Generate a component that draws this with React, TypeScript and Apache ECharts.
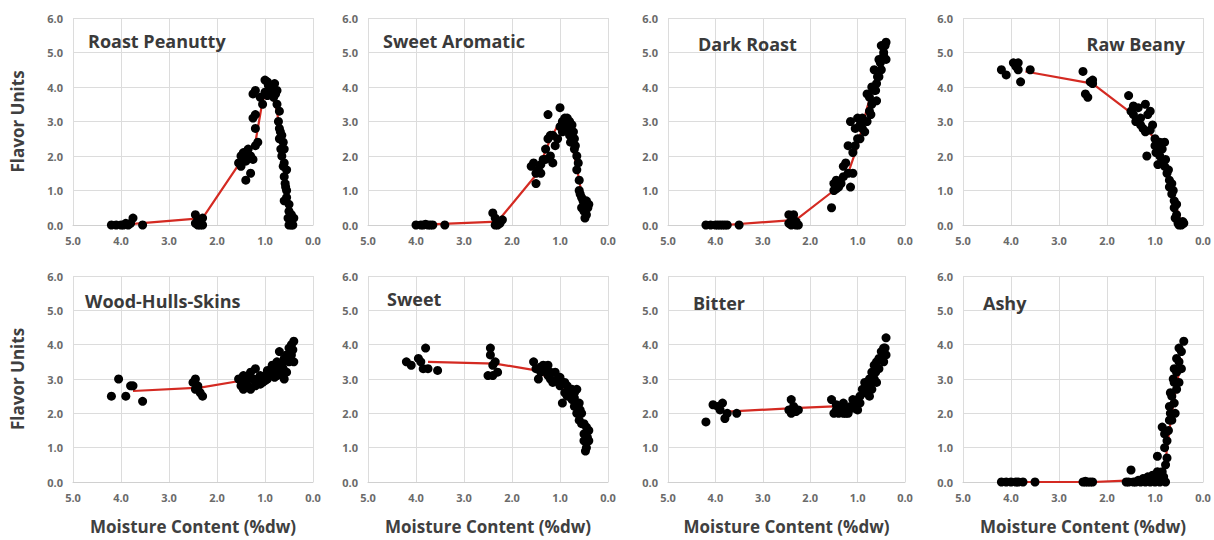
import React, { useEffect, useRef } from "react";
import * as echarts from "echarts";

// ---------- data (moisture %dw, flavor units) ----------
const panelTitles = [
  "Roast Peanutty",
  "Sweet Aromatic",
  "Dark Roast",
  "Raw Beany",
  "Wood-Hulls-Skins",
  "Sweet",
  "Bitter",
  "Ashy",
];

const roastPeanuttyPts = [
  [4.2, 0], [4.1, 0], [4.0, 0], [3.95, 0], [3.9, 0.05], [3.85, 0], [3.8, 0.05], [3.75, 0.2], [3.55, 0],
  [2.45, 0.3], [2.4, 0.0], [2.35, 0.1], [2.3, 0.2], [2.4, 0.15], [2.35, 0.0], [2.45, 0.05], [2.3, 0.0],
  [1.55, 1.8], [1.5, 2.0], [1.45, 1.9], [1.5, 1.7], [1.45, 2.1], [1.4, 1.3], [1.35, 2.2], [1.3, 1.5],
  [1.25, 1.9], [1.3, 2.0], [1.2, 2.3], [1.15, 2.4], [1.25, 3.1], [1.2, 2.8], [1.2, 3.2], [1.25, 3.8],
  [1.2, 3.9], [1.1, 3.7], [1.05, 3.5], [1.0, 4.2], [0.95, 4.15], [0.9, 4.0], [0.85, 3.95], [0.8, 4.1],
  [0.75, 3.9], [0.75, 3.5], [0.7, 3.3], [0.72, 3.0], [0.7, 2.8], [0.65, 2.6], [0.7, 2.5], [0.62, 2.4],
  [0.6, 2.2], [0.65, 2.0], [0.6, 1.8], [0.55, 1.6], [0.6, 1.4], [0.55, 1.0], [0.55, 0.8], [0.5, 0.6],
  [0.5, 0.4], [0.45, 0.3], [0.4, 0.2], [0.45, 0.1], [0.5, 0.0], [0.45, 0.0], [0.6, 0.7], [0.58, 1.2],
  [0.68, 2.7], [0.78, 3.8], [0.88, 3.9], [0.93, 4.05], [0.62, 1.7], [0.52, 0.2], [0.42, 0.0],
  [1.4, 1.85], [1.35, 2.05], [1.0, 3.85], [0.95, 3.75], [0.82, 3.7], [0.67, 2.2], [0.57, 1.1], [0.48, 0.15],
];
const roastPeanuttyLine = [
  [3.75, 0.03], [2.3, 0.2], [1.5, 1.85], [1.2, 2.4], [1.05, 3.6], [0.9, 4.0], [0.75, 3.3], [0.65, 2.3], [0.58, 1.3], [0.5, 0.4],
];

const sweetAromaticPts = [
  [4.0, 0], [3.9, 0], [3.85, 0], [3.8, 0.02], [3.75, 0], [3.7, 0], [3.65, 0], [3.4, 0],
  [2.4, 0.35], [2.35, 0.0], [2.3, 0.1], [2.25, 0.05], [2.3, 0.0], [2.2, 0.15], [2.35, 0.2],
  [1.6, 1.7], [1.55, 1.8], [1.5, 1.2], [1.45, 1.6], [1.4, 1.5], [1.35, 1.9], [1.3, 2.2], [1.25, 2.5],
  [1.2, 2.6], [1.2, 2.0], [1.15, 1.8], [1.1, 2.3], [1.25, 3.2], [1.0, 3.4], [0.95, 3.0], [0.9, 2.9],
  [0.85, 3.1], [0.8, 3.0], [0.75, 2.9], [0.8, 2.6], [0.7, 2.5], [0.7, 2.2], [0.65, 2.0], [0.65, 1.6],
  [0.6, 1.3], [0.6, 1.0], [0.55, 0.8], [0.5, 0.6], [0.5, 0.4], [0.45, 0.3], [0.45, 0.7], [0.4, 0.6],
  [1.05, 2.5], [0.95, 2.7], [0.85, 2.8], [0.72, 2.7], [0.62, 1.8], [0.55, 0.5], [0.48, 0.2], [0.42, 0.5],
  [1.5, 1.5], [1.4, 1.75], [1.3, 1.9], [1.15, 2.6], [1.0, 2.85], [0.9, 3.1], [0.78, 2.4], [0.68, 2.3],
  [0.58, 0.9], [0.52, 0.7],
];
const sweetAromaticLine = [
  [3.7, 0.02], [2.3, 0.1], [1.5, 1.45], [1.2, 2.5], [1.0, 3.0], [0.8, 2.7], [0.6, 1.3], [0.5, 0.5],
];

const darkRoastPts = [
  [4.2, 0], [4.1, 0], [4.0, 0], [3.95, 0], [3.9, 0], [3.85, 0], [3.8, 0], [3.75, 0], [3.5, 0],
  [2.45, 0.3], [2.4, 0.0], [2.35, 0.3], [2.3, 0.1], [2.3, 0.0], [2.25, 0.0], [2.4, 0.1], [2.45, 0.05],
  [1.55, 0.5], [1.5, 1.0], [1.45, 1.3], [1.4, 1.1], [1.35, 1.2], [1.3, 1.4], [1.25, 1.8], [1.2, 1.5],
  [1.15, 1.1], [1.1, 1.5], [1.2, 2.3], [1.15, 3.0], [1.1, 2.1], [1.05, 2.8], [1.0, 3.1], [0.95, 2.5],
  [0.9, 2.8], [0.85, 2.7], [0.8, 3.0], [0.75, 3.3], [0.8, 3.8], [0.7, 3.5], [0.7, 4.0], [0.65, 4.5],
  [0.6, 4.1], [0.6, 3.6], [0.55, 4.8], [0.5, 5.2], [0.45, 5.0], [0.4, 5.3], [0.4, 4.8], [0.5, 4.5],
  [0.55, 4.3], [1.0, 2.5], [0.75, 3.7], [0.65, 3.9], [0.45, 4.9], [1.3, 1.7], [1.5, 1.2], [0.95, 2.9],
  [0.58, 4.3], [0.42, 5.2], [1.45, 1.05], [1.05, 2.3], [0.9, 3.1], [0.72, 3.2], [0.62, 3.9], [0.52, 4.7],
];
const darkRoastLine = [
  [3.8, 0.0], [2.3, 0.15], [1.5, 1.0], [1.2, 1.5], [1.0, 2.3], [0.8, 3.4], [0.6, 4.3], [0.45, 5.1],
];

const rawBeanyPts = [
  [4.2, 4.5], [4.1, 4.35], [3.95, 4.7], [3.9, 4.6], [3.85, 4.5], [3.8, 4.15], [3.85, 4.7], [3.6, 4.5],
  [2.5, 4.45], [2.45, 3.8], [2.4, 3.7], [2.35, 4.15], [2.3, 4.1], [2.3, 4.2],
  [1.55, 3.75], [1.5, 3.3], [1.45, 3.2], [1.4, 3.0], [1.35, 3.4], [1.3, 3.1], [1.25, 2.8], [1.2, 2.7],
  [1.2, 3.5], [1.15, 3.2], [1.1, 3.3], [1.05, 2.9], [1.0, 2.5], [1.0, 2.3], [0.95, 2.3], [0.9, 2.4],
  [0.9, 2.0], [0.85, 1.8], [0.85, 2.2], [0.8, 1.7], [0.75, 1.5], [0.7, 1.3], [0.65, 1.2], [0.7, 1.1],
  [0.6, 0.7], [0.6, 0.5], [0.55, 0.3], [0.5, 0.1], [0.45, 0.0], [0.5, 0.0], [0.4, 0.05], [0.55, 0.6],
  [1.17, 2.0], [0.94, 1.75], [0.8, 2.4], [0.65, 0.9], [0.58, 0.2], [0.42, 0.1],
  [1.45, 3.45], [1.3, 2.9], [1.1, 2.75], [0.98, 2.1], [0.78, 1.9], [0.72, 1.6], [0.62, 1.0], [0.52, 0.05],
];
const rawBeanyLine = [
  [3.7, 4.45], [2.3, 4.1], [1.5, 3.25], [1.0, 2.5], [0.8, 1.8], [0.6, 0.7], [0.45, 0.05],
];

const woodHullsPts = [
  [4.2, 2.5], [4.05, 3.0], [3.9, 2.5], [3.8, 2.8], [3.75, 2.8], [3.55, 2.35],
  [2.5, 2.9], [2.45, 2.7], [2.4, 2.8], [2.35, 2.6], [2.3, 2.5], [2.45, 3.0], [2.4, 2.75],
  [1.55, 3.0], [1.5, 2.8], [1.45, 2.7], [1.4, 2.9], [1.35, 3.1], [1.3, 2.7], [1.25, 3.0], [1.2, 3.3],
  [1.2, 2.8], [1.15, 3.0], [1.1, 3.1], [1.05, 2.9], [1.0, 3.1], [0.95, 3.0], [0.9, 3.2], [0.85, 3.1],
  [0.8, 3.3], [0.75, 3.5], [0.75, 3.1], [0.7, 3.8], [0.7, 3.3], [0.65, 3.4], [0.6, 3.6], [0.55, 3.2],
  [0.55, 3.7], [0.5, 3.9], [0.5, 3.5], [0.45, 4.0], [0.4, 4.1], [0.4, 3.5], [0.45, 3.7], [1.3, 3.2],
  [1.45, 3.1], [0.65, 3.2], [0.85, 3.4], [0.95, 3.25], [1.1, 2.85], [0.6, 3.0],
  [1.5, 2.95], [1.35, 2.8], [1.0, 2.95], [0.8, 3.05], [0.62, 3.3], [0.52, 3.6], [0.42, 3.85],
];
const woodHullsLine = [
  [3.75, 2.65], [2.35, 2.75], [1.5, 2.95], [1.0, 3.05], [0.7, 3.3], [0.45, 3.7],
];

const sweetPts = [
  [4.2, 3.5], [4.1, 3.4], [3.95, 3.6], [3.85, 3.3], [3.8, 3.9], [3.75, 3.3], [3.55, 3.25], [3.9, 3.5],
  [2.45, 3.9], [2.45, 3.7], [2.4, 3.1], [2.35, 3.5], [2.3, 3.2], [2.5, 3.1], [2.4, 3.4],
  [1.55, 3.5], [1.5, 3.3], [1.45, 3.0], [1.4, 3.2], [1.35, 3.4], [1.3, 3.3], [1.25, 3.1], [1.2, 3.0],
  [1.15, 2.9], [1.1, 3.2], [1.05, 3.0], [1.0, 2.8], [0.95, 2.3], [0.95, 2.9], [0.9, 2.6], [0.85, 2.5],
  [0.8, 2.7], [0.75, 2.4], [0.7, 2.6], [0.7, 2.2], [0.65, 2.0], [0.6, 1.8], [0.6, 2.3], [0.55, 1.7],
  [0.5, 1.4], [0.5, 1.2], [0.45, 1.0], [0.45, 1.6], [0.4, 1.5], [0.4, 1.2], [0.47, 0.9], [0.55, 2.0],
  [0.65, 2.7], [0.85, 2.8], [1.25, 3.4], [0.75, 2.7],
  [1.4, 3.35], [1.2, 3.2], [1.0, 3.05], [0.9, 2.9], [0.7, 2.45], [0.58, 2.1], [0.5, 1.7], [0.43, 1.3],
];
const sweetLine = [
  [3.75, 3.5], [2.35, 3.45], [1.5, 3.25], [1.0, 2.8], [0.7, 2.3], [0.45, 1.5],
];

const bitterPts = [
  [4.2, 1.75], [4.05, 2.25], [3.95, 2.2], [3.85, 2.3], [3.8, 1.85], [3.75, 2.0], [3.55, 2.0], [3.9, 2.1],
  [2.45, 2.1], [2.4, 2.4], [2.35, 2.2], [2.3, 2.05], [2.25, 2.1], [2.4, 2.0],
  [1.55, 2.4], [1.5, 2.0], [1.45, 2.1], [1.4, 2.0], [1.35, 2.2], [1.3, 2.3], [1.25, 2.0], [1.2, 2.1],
  [1.15, 2.2], [1.1, 2.4], [1.05, 2.3], [1.0, 2.1], [0.95, 2.5], [0.9, 2.7], [0.85, 2.6], [0.8, 2.8],
  [0.75, 3.0], [0.75, 2.5], [0.7, 3.2], [0.7, 2.7], [0.65, 3.0], [0.6, 3.5], [0.6, 2.9], [0.55, 3.3],
  [0.5, 3.6], [0.5, 3.8], [0.45, 3.9], [0.4, 4.2], [0.4, 3.7], [0.45, 3.5], [1.0, 2.4], [0.85, 2.9],
  [0.65, 3.4], [1.3, 2.0], [1.45, 2.25],
  [1.2, 2.0], [1.1, 2.15], [0.95, 2.3], [0.8, 2.6], [0.72, 2.9], [0.62, 3.2], [0.55, 3.6], [0.42, 3.9],
];
const bitterLine = [
  [3.75, 2.05], [2.35, 2.15], [1.5, 2.2], [1.0, 2.3], [0.7, 2.9], [0.45, 3.75],
];

const ashyPts = [
  [4.2, 0], [4.1, 0], [4.0, 0], [3.9, 0], [3.85, 0], [3.75, 0], [3.5, 0],
  [2.5, 0], [2.45, 0], [2.4, 0], [2.35, 0], [2.3, 0], [2.45, 0.02],
  [1.6, 0], [1.55, 0], [1.5, 0.35], [1.45, 0], [1.4, 0], [1.35, 0.05], [1.3, 0], [1.25, 0.1],
  [1.2, 0], [1.15, 0.15], [1.1, 0], [1.05, 0.2], [1.0, 0.1], [0.95, 0.75], [0.95, 0.3], [0.9, 0.2],
  [0.9, 0], [0.85, 0.3], [0.85, 1.6], [0.8, 1.0], [0.8, 1.4], [0.75, 1.2], [0.75, 0.7], [0.7, 1.8],
  [0.7, 2.2], [0.65, 2.5], [0.65, 1.8], [0.6, 2.9], [0.6, 2.3], [0.55, 3.2], [0.55, 2.7], [0.5, 3.5],
  [0.45, 3.8], [0.4, 4.1], [0.45, 3.3], [0.5, 2.9], [0.62, 3.0], [0.68, 2.0], [0.78, 0.5], [0.88, 0.1],
  [1.0, 0.0], [1.12, 0.05],
  [0.82, 0.15], [0.78, 0.0], [0.72, 1.5], [0.68, 2.6], [0.6, 3.3], [0.55, 3.6], [0.5, 3.9], [0.58, 2.0],
];
const ashyLine = [
  [3.75, 0.0], [2.3, 0.0], [1.5, 0.05], [1.0, 0.1], [0.8, 0.3], [0.75, 1.0], [0.65, 2.0], [0.45, 3.6],
];

const panelPoints = [
  roastPeanuttyPts, sweetAromaticPts, darkRoastPts, rawBeanyPts,
  woodHullsPts, sweetPts, bitterPts, ashyPts,
];
const panelLines = [
  roastPeanuttyLine, sweetAromaticLine, darkRoastLine, rawBeanyLine,
  woodHullsLine, sweetLine, bitterLine, ashyLine,
];

const xAxisTitle = "Moisture Content (%dw)";
const yAxisTitle = "Flavor Units";

// ---------- layout ----------
const colLefts = [73, 368, 668, 963];
const colWidths = [240, 240, 237, 240];
const rowTops = [18, 276];
const rowHeights = [207, 206];
const titlePos: Array<{ left?: number; right?: number; top: number }> = [
  { left: 88, top: 32 },
  { left: 383, top: 32 },
  { left: 698, top: 35 },
  { right: 29, top: 35 },
  { left: 85, top: 292 },
  { left: 387, top: 290 },
  { left: 693, top: 294 },
  { left: 983, top: 294 },
];

const FONT = "'Open Sans', 'Noto Sans', sans-serif";

export default function App() {
  const ref = useRef<HTMLDivElement>(null);

  useEffect(() => {
    if (!ref.current) return;
    const chart = echarts.init(ref.current, undefined, { renderer: "svg" });

    const grid: any[] = [];
    const xAxis: any[] = [];
    const yAxis: any[] = [];
    const series: any[] = [];
    const title: any[] = [];

    for (let i = 0; i < 8; i++) {
      const r = Math.floor(i / 4);
      const c = i % 4;
      grid.push({
        left: colLefts[c],
        top: rowTops[r],
        width: colWidths[c],
        height: rowHeights[r],
        containLabel: false,
      });
      xAxis.push({
        type: "value",
        gridIndex: i,
        min: 0,
        max: 5,
        interval: 1,
        inverse: true,
        name: r === 1 ? xAxisTitle : "",
        nameLocation: "middle",
        nameGap: 36,
        nameTextStyle: { fontFamily: FONT, fontWeight: "bold", fontSize: 17, color: "#404040" },
        axisLine: { show: true, lineStyle: { color: "#d0d0d0", width: 1 } },
        axisTick: { show: false },
        axisLabel: {
          margin: 10,
          fontSize: 11,
          fontWeight: "bold",
          fontFamily: FONT,
          color: "#6a6a6a",
          formatter: (v: number) => v.toFixed(1),
        },
        splitLine: { show: true, lineStyle: { color: "#dcdcdc", width: 1 } },
      });
      yAxis.push({
        type: "value",
        gridIndex: i,
        min: 0,
        max: 6,
        interval: 1,
        name: c === 0 ? yAxisTitle : "",
        nameLocation: "middle",
        nameGap: 47,
        nameRotate: 90,
        nameTextStyle: { fontFamily: FONT, fontWeight: "bold", fontSize: 17, color: "#404040" },
        axisLine: { show: false },
        axisTick: { show: false },
        axisLabel: {
          margin: 10,
          fontSize: 11,
          fontWeight: "bold",
          fontFamily: FONT,
          color: "#6a6a6a",
          formatter: (v: number) => v.toFixed(1),
        },
        splitLine: { show: true, lineStyle: { color: "#dcdcdc", width: 1 } },
      });
      series.push({
        type: "line",
        xAxisIndex: i,
        yAxisIndex: i,
        data: panelLines[i],
        symbol: "none",
        lineStyle: { color: "#d42a22", width: 2.2 },
        z: 2,
        silent: true,
      });
      series.push({
        type: "scatter",
        xAxisIndex: i,
        yAxisIndex: i,
        data: panelPoints[i],
        symbol: "circle",
        symbolSize: 9,
        itemStyle: { color: "#000000", opacity: 1 },
        z: 3,
        silent: true,
      });
      title.push({
        text: panelTitles[i],
        ...titlePos[i],
        padding: 0,
        textStyle: { fontFamily: FONT, fontWeight: "bold", fontSize: 18, color: "#3a3a3a" },
      });
    }

    chart.setOption({
      animation: false,
      backgroundColor: "#ffffff",
      title,
      grid,
      xAxis,
      yAxis,
      series,
    });

    return () => chart.dispose();
  }, []);

  return (
    <div
      ref={ref}
      style={{ position: "fixed", left: 0, top: 0, width: 1214, height: 540, background: "#fff" }}
    />
  );
}
